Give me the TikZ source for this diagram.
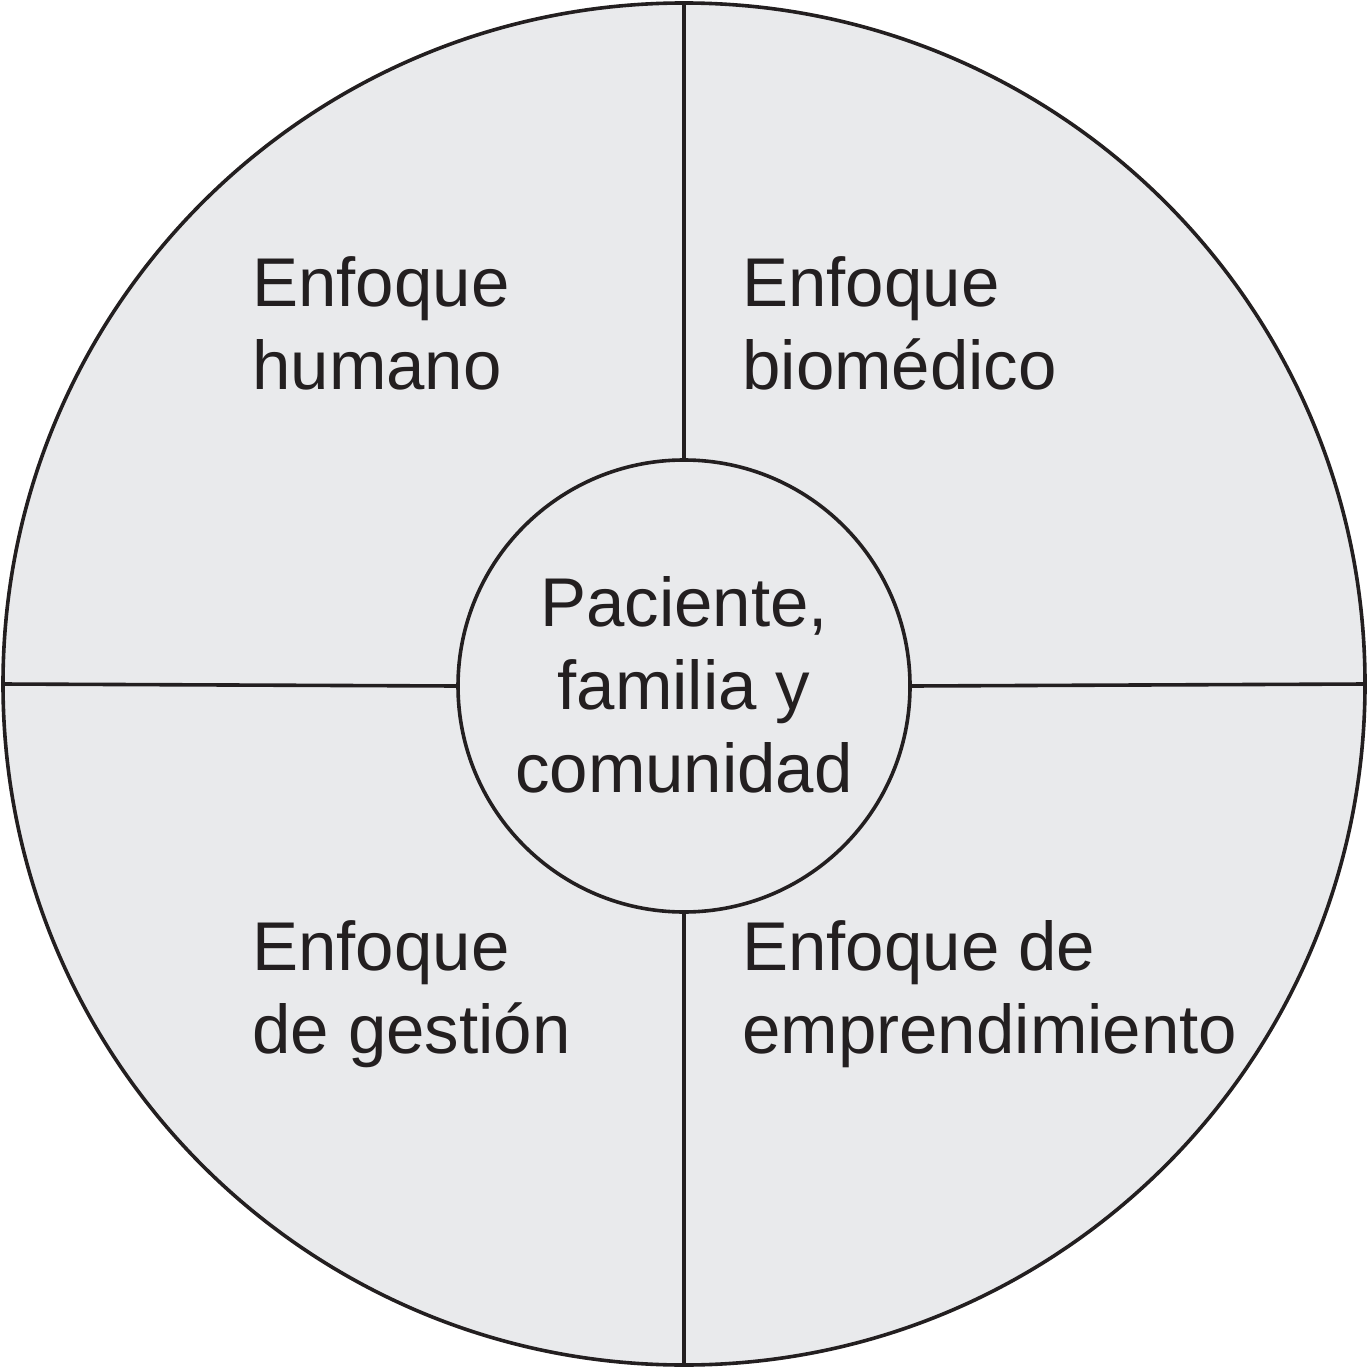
\documentclass[tikz,border=0pt]{standalone}
\usepackage{fontspec}
\setmainfont{Liberation Sans}
\definecolor{fillgray}{HTML}{E9EAEC}
\definecolor{ink}{HTML}{231F20}
\begin{document}
\begin{tikzpicture}[x=0.5pt,y=-0.5pt,
  ring/.style={circle,draw=ink,line width=1.8pt,inner sep=0pt},
  divider/.style={draw=ink,line width=1.8pt},
  label/.style={text=ink,inner sep=0pt,font=\fontsize{34.5}{41.5}\selectfont}]
\useasboundingbox (0,0) rectangle (1368,1368);
\node[ring,fill=fillgray,minimum size=1362*0.5pt] (outer) at (684,684) {};
\node[ring,fill=fillgray,minimum size=452*0.5pt] (inner) at (684,686) {};
\draw[divider] (outer.north) -- (inner.north);
\draw[divider] (inner.south) -- (outer.south);
\draw[divider] (outer.west) -- (inner.west);
\draw[divider] (inner.east) -- (outer.east);
\node[label,anchor=base west,align=left] (humano) at (252,390) {Enfoque\\humano};
\node[label,anchor=base west,align=left] (biomedico) at (742,390) {Enfoque\\biomédico};
\node[label,anchor=base west,align=left] (gestion) at (252,1053) {Enfoque\\de gestión};
\node[label,anchor=base west,align=left] (empr) at (742,1053) {Enfoque de\\emprendimiento};
\node[label,anchor=base,align=center] (centro) at (684,792) {Paciente,\\familia y\\comunidad};
\end{tikzpicture}
\end{document}
